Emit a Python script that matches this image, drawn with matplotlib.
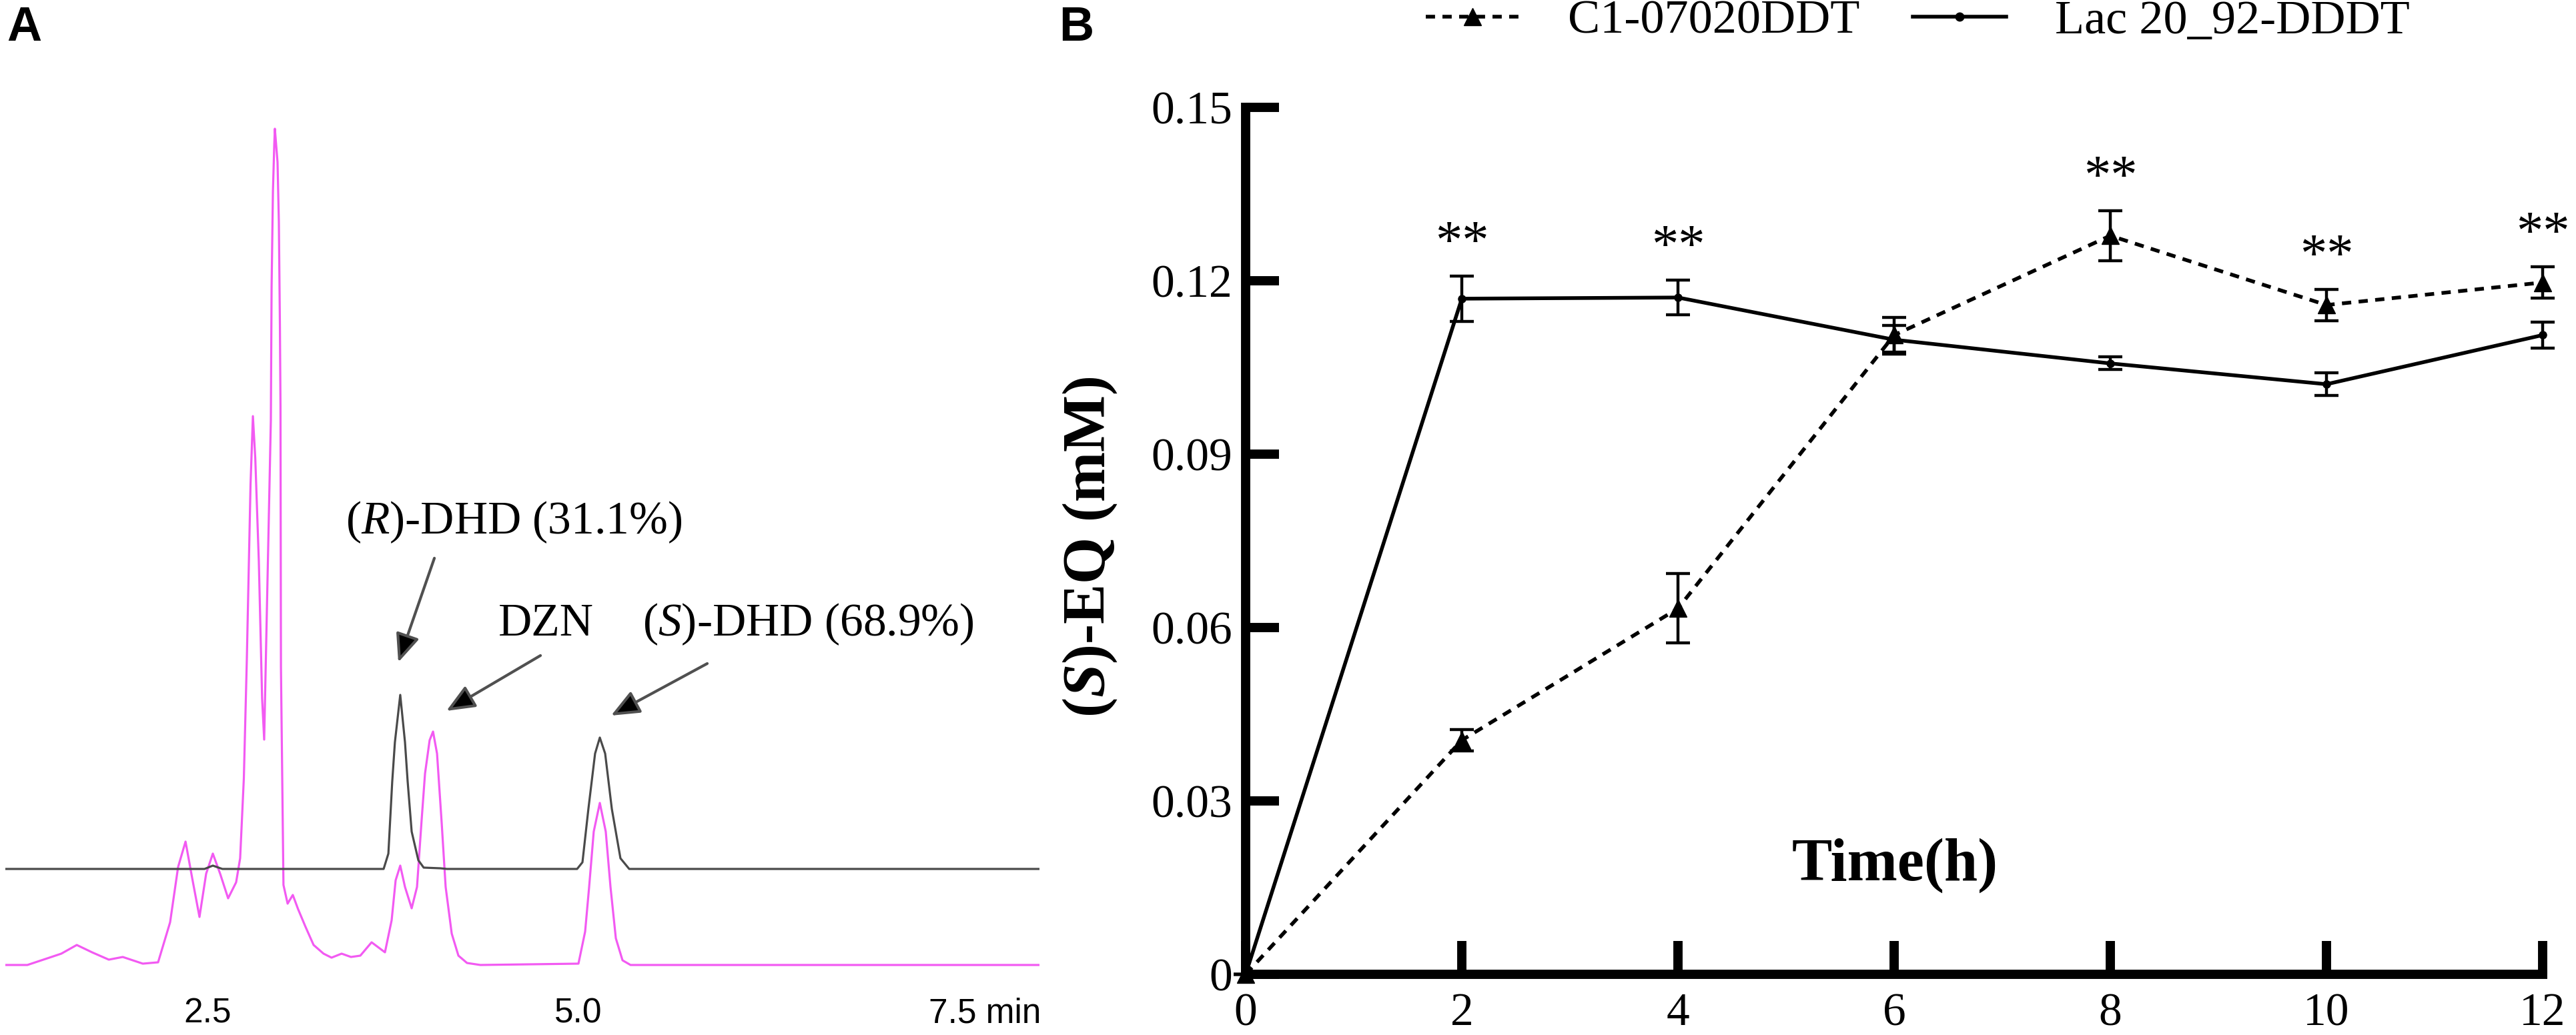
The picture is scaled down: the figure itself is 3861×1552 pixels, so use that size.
import matplotlib
matplotlib.use('Agg')
import matplotlib.pyplot as plt
from matplotlib.lines import Line2D
import matplotlib.transforms as mtransforms

plt.rcParams['mathtext.fontset'] = 'custom'
plt.rcParams['mathtext.rm'] = 'Liberation Serif'
plt.rcParams['mathtext.it'] = 'Liberation Serif:italic:bold'   # bold italic (axis label)
plt.rcParams['mathtext.sf'] = 'Liberation Serif:italic'        # plain italic (panel A)
plt.rcParams['mathtext.bf'] = 'Liberation Serif:bold'

# ---------------- Panel A: chromatogram traces (time in min, signal a.u.) ----------------
pink_time = [1.138, 1.286, 1.421, 1.515, 1.619, 1.722, 1.835, 1.929, 2.064, 2.167,
             2.248, 2.302, 2.352, 2.397, 2.446, 2.491, 2.536, 2.585, 2.639, 2.693,
             2.720, 2.745, 2.765, 2.790, 2.806, 2.822, 2.846, 2.868, 2.882,
             2.927, 2.932, 2.941, 2.950, 2.954, 2.972, 2.981, 2.988, 2.992, 2.995,
             3.012, 3.040, 3.075, 3.110, 3.161, 3.215, 3.282, 3.336, 3.404, 3.467,
             3.530, 3.606, 3.696, 3.741, 3.768, 3.799, 3.831, 3.876, 3.912, 3.943,
             3.966, 3.997, 4.020, 4.047, 4.078, 4.105, 4.146, 4.191, 4.249, 4.339,
             5.000, 5.045, 5.072, 5.103, 5.144, 5.184, 5.216, 5.252, 5.297, 5.351,
             8.107]
pink_signal = [0.0, 0.0, 1.0, 1.7, 3.0, 1.9, 0.8, 1.2, 0.2, 0.4,
               6.4, 14.7, 18.5, 13.0, 7.2, 13.7, 16.7, 13.7, 10.0, 12.4,
               16.0, 28.0, 45.7, 72.0, 82.3, 76.0, 60.5, 40.0, 33.8,
               81.7, 101.7, 116.0, 123.0, 125.4, 120.4, 111.4, 96.0, 83.7, 44.7,
               12.0, 9.2, 10.5, 8.4, 5.7, 3.0, 1.7, 1.1, 1.7, 1.2,
               1.4, 3.4, 1.9, 6.7, 12.7, 14.9, 11.7, 8.5, 11.7, 21.7,
               28.7, 33.7, 35.0, 31.7, 21.4, 11.7, 4.7, 1.4, 0.3, 0.0,
               0.2, 5.0, 11.7, 20.0, 24.3, 20.0, 11.7, 4.0, 0.7, 0.0,
               0.0]

black_time = [1.138, 2.480, 2.536, 2.600, 3.687, 3.719, 3.745, 3.763, 3.799, 3.831,
              3.849, 3.876, 3.921, 3.957, 4.069, 4.114, 4.991, 5.027, 5.067, 5.112,
              5.144, 5.180, 5.225, 5.283, 5.342, 8.107]
black_signal = [0.0, 0.0, 0.5, 0.0, 0.0, 2.3, 13.1, 19.0, 26.1, 19.0,
                13.1, 5.6, 1.3, 0.2, 0.1, 0.0, 0.0, 1.0, 9.0, 17.3,
                19.7, 17.3, 9.0, 1.6, 0.0, 0.0]

a_ticks = [2.5, 5.0, 7.5]
a_ticklabels = ['2.5', '5.0', '7.5 min']

# ---------------- Panel B: (S)-EQ time course ----------------
time_h = [0, 2, 4, 6, 8, 10, 12]
c1_mean = [0.0, 0.0405, 0.0633, 0.1106, 0.1278, 0.1158, 0.1197]
c1_err = [0.0, 0.0018, 0.0060, 0.0030, 0.0043, 0.0027, 0.0027]
lac_mean = [0.0, 0.1169, 0.1171, 0.1098, 0.1057, 0.1021, 0.1106]
lac_err = [0.0, 0.0039, 0.0030, 0.0025, 0.0011, 0.0020, 0.0022]
star_times = [2, 4, 8, 10, 12]
b_xticks = [0, 2, 4, 6, 8, 10, 12]
b_yticks = [0, 0.03, 0.06, 0.09, 0.12, 0.15]
b_yticklabels = ['0', '0.03', '0.06', '0.09', '0.12', '0.15']
series_names = ['C1-07020DDT', 'Lac 20_92-DDDT']

W, H = 3862, 1552
fig = plt.figure(figsize=(W / 100, H / 100), dpi=100)


def px_rect(l, t, r, b):
    return [l / W, 1 - b / H, (r - l) / W, (b - t) / H]


SERIF = 'Liberation Serif'
SANS = 'Liberation Sans'

# ================= Panel A =================
axA = fig.add_axes(px_rect(8, 180, 1558, 1470))
black_offset = 14.4
axA.plot(pink_time, pink_signal, color='#F25AF2', lw=2.3, solid_joinstyle='round')
axA.plot(black_time, [s + black_offset for s in black_signal], color='#4a4a4a', lw=2.3,
         solid_joinstyle='round')
axA.set_xlim(1.1376, 8.107)
axA.set_ylim(-2.3, 126.7)
for sp in axA.spines.values():
    sp.set_visible(False)
axA.set_yticks([])
axA.set_xticks(a_ticks)
axA.set_xticklabels(a_ticklabels, fontsize=37, family=SANS)
axA.tick_params(axis='x', length=0, pad=18)
lab = axA.get_xticklabels()[-1]
lab.set_horizontalalignment('left')
lab.set_transform(lab.get_transform() +
                  mtransforms.ScaledTranslation(-0.31, 0, fig.dpi_scale_trans))

arrow_kw = dict(arrowstyle='-|>,head_length=1.3,head_width=0.55', fc='black',
                ec='#505050', lw=3.0, mutation_scale=20, shrinkA=0, shrinkB=0)
axA.annotate('', xy=(3.786, 45.4), xytext=(4.029, 61.0), arrowprops=arrow_kw)
axA.annotate('', xy=(4.110, 38.1), xytext=(4.744, 46.4), arrowprops=arrow_kw)
axA.annotate('', xy=(5.220, 37.4), xytext=(5.868, 45.2), arrowprops=arrow_kw)

axA.text(4.564, 66.4, r'($\mathsf{R}$)-DHD (31.1%)', ha='center', va='center',
         fontsize=50, family=SERIF)
axA.text(4.780, 51.1, 'DZN', ha='center', va='center', fontsize=50, family=SERIF)
axA.text(6.547, 51.1, r'($\mathsf{S}$)-DHD (68.9%)', ha='center', va='center',
         fontsize=50, family=SERIF)

fig.text(10 / W, 1 - 8 / H, 'A', fontsize=52, fontweight='bold', family=SANS,
         ha='left', va='top')
fig.text(1587 / W, 1 - 8 / H, 'B', fontsize=52, fontweight='bold', family=SANS,
         ha='left', va='top')

# ================= Panel B =================
axB = fig.add_axes(px_rect(1867, 161, 3811, 1461))
axB.set_xlim(0, 12)
axB.set_ylim(0, 0.15)

LW = 4.0
c1 = axB.errorbar(time_h, c1_mean, yerr=c1_err, color='black', marker='^', ms=19,
                  ls='--', lw=LW, elinewidth=3.2, capsize=13, capthick=3.2, zorder=3)
c1.lines[0].set_dashes([2.5, 2.0])
lac = axB.errorbar(time_h, lac_mean, yerr=lac_err, color='black', marker='o', ms=8,
                   ls='-', lw=LW, elinewidth=3.2, capsize=13, capthick=3.2, zorder=3)
for cont in (c1, lac):
    for art in cont.get_children():
        art.set_clip_on(False)

for t in star_times:
    i = time_h.index(t)
    top = max(c1_mean[i] + c1_err[i], lac_mean[i] + lac_err[i])
    axB.annotate('**', xy=(t, top), xytext=(0, 20), textcoords='offset points',
                 ha='center', va='baseline', fontsize=58, family=SERIF,
                 annotation_clip=False)

for side in ('top', 'right'):
    axB.spines[side].set_visible(False)
for side in ('left', 'bottom'):
    axB.spines[side].set_linewidth(10)
    axB.spines[side].set_capstyle('projecting')

axB.set_xticks(b_xticks)
axB.set_xticklabels([str(v) for v in b_xticks], fontsize=50, family=SERIF)
axB.set_yticks(b_yticks)
axB.set_yticklabels(b_yticklabels, fontsize=50, family=SERIF)
axB.tick_params(axis='both', direction='in', length=36, width=10)
axB.tick_params(axis='x', pad=20)
axB.tick_params(axis='y', pad=14)

axB.set_xlabel('Time(h)', fontsize=65, fontweight='bold', family=SERIF)
axB.xaxis.set_label_coords(0.5005, 0.126)
axB.xaxis.label.set_verticalalignment('center')
axB.set_ylabel(r'($\mathit{S}$)-EQ (mM)', fontsize=65, fontweight='bold', family=SERIF)
axB.yaxis.set_label_coords(-0.120, 0.493)
axB.yaxis.label.set_verticalalignment('center')

handles = [Line2D([], [], color='black', ls='--', dashes=[2.5, 2.0], lw=LW, marker='^', ms=19),
           Line2D([], [], color='black', ls='-', lw=LW, marker='o', ms=9)]
fig.legend(handles, series_names, loc='center', bbox_to_anchor=(2874 / W, 1 - 32 / H),
           ncol=2, frameon=False, prop={'family': SERIF, 'size': 52},
           handlelength=1.95, handletextpad=1.0, columnspacing=1.1, borderpad=0,
           borderaxespad=0)

fig.savefig('out.png', dpi=100)
